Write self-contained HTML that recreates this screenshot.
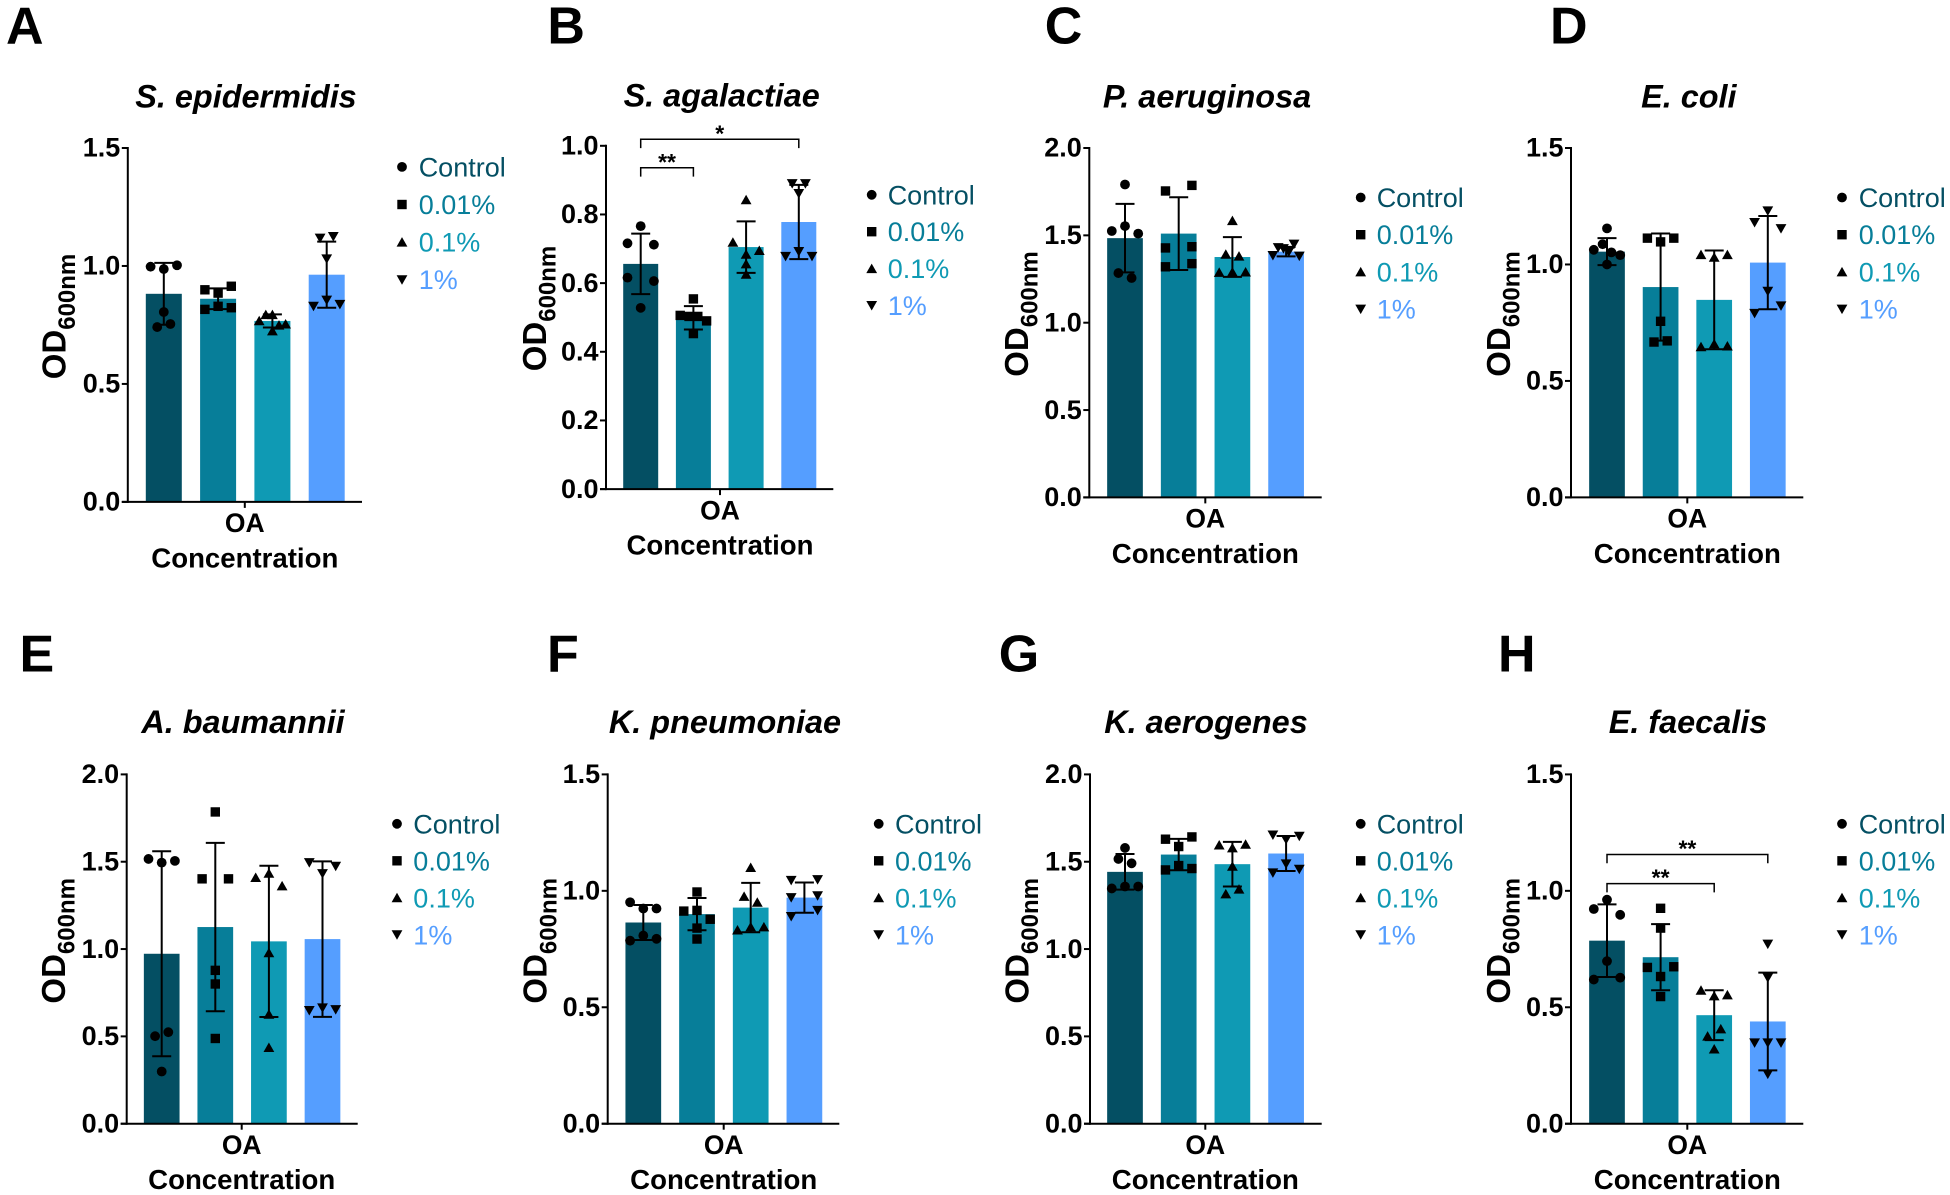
<!DOCTYPE html>
<html lang="en">
<head>
<meta charset="utf-8">
<title>OD600 by OA concentration for eight bacterial species</title>
<style>
html,body{margin:0;padding:0;background:#fff;}
svg{display:block;}
text{font-family:"Liberation Sans",sans-serif;}
</style>
</head>
<body>
<svg id="figure" xmlns="http://www.w3.org/2000/svg" width="1950" height="1195" viewBox="0 0 1950 1195"></svg>
<script>
const categories = ['Control', '0.01%', '0.1%', '1%'];

const aTitle = 'S. epidermidis';
const aTicks = [0, 0.5, 1.0, 1.5];
const aMeans = [0.882, 0.861, 0.767, 0.963];
const aSds = [0.131, 0.044, 0.028, 0.140];
const aPoints = [
  [0.997, 0.987, 1.003, 0.805, 0.741, 0.754],
  [0.899, 0.885, 0.914, 0.816, 0.829, 0.823],
  [0.768, 0.794, 0.794, 0.749, 0.754, 0.725],
  [1.118, 1.125, 1.030, 0.829, 0.855, 0.837]
];
const aBrackets = [];

const bTitle = 'S. agalactiae';
const bTicks = [0, 0.2, 0.4, 0.6, 0.8, 1.0];
const bMeans = [0.656, 0.499, 0.705, 0.778];
const bSds = [0.088, 0.034, 0.075, 0.108];
const bPoints = [
  [0.766, 0.716, 0.712, 0.616, 0.606, 0.528],
  [0.554, 0.506, 0.503, 0.503, 0.490, 0.453],
  [0.843, 0.719, 0.684, 0.695, 0.656, 0.626],
  [0.890, 0.890, 0.861, 0.678, 0.692, 0.678]
];
const bBrackets = [[0, 3, 1.019, '*'], [0, 1, 0.936, '**']];

const cTitle = 'P. aeruginosa';
const cTicks = [0, 0.5, 1.0, 1.5, 2.0];
const cMeans = [1.484, 1.510, 1.376, 1.407];
const cSds = [0.196, 0.208, 0.114, 0.027];
const cPoints = [
  [1.791, 1.525, 1.553, 1.510, 1.284, 1.256],
  [1.754, 1.786, 1.428, 1.435, 1.320, 1.338],
  [1.584, 1.392, 1.381, 1.288, 1.290, 1.290],
  [1.385, 1.430, 1.424, 1.405, 1.450, 1.381]
];
const cBrackets = [];

const dTitle = 'E. coli';
const dTicks = [0, 0.5, 1.0, 1.5];
const dMeans = [1.055, 0.903, 0.848, 1.008];
const dSds = [0.058, 0.230, 0.212, 0.200];
const dPoints = [
  [1.155, 1.063, 1.087, 1.052, 1.040, 1.000],
  [1.113, 1.097, 1.113, 0.756, 0.667, 0.672],
  [1.042, 1.031, 1.042, 0.647, 0.659, 0.650],
  [1.230, 1.180, 1.154, 0.885, 0.790, 0.822]
];
const dBrackets = [];

const eTitle = 'A. baumannii';
const eTicks = [0, 0.5, 1.0, 1.5, 2.0];
const eMeans = [0.973, 1.126, 1.044, 1.057];
const eSds = [0.587, 0.482, 0.433, 0.445];
const ePoints = [
  [1.516, 1.495, 1.505, 0.501, 0.524, 0.299],
  [1.785, 1.402, 1.402, 0.878, 0.800, 0.488],
  [1.410, 1.434, 1.362, 0.979, 0.627, 0.436],
  [1.495, 1.432, 1.474, 0.648, 0.663, 0.653]
];
const eBrackets = [];

const fTitle = 'K. pneumoniae';
const fTicks = [0, 0.5, 1.0, 1.5];
const fMeans = [0.864, 0.900, 0.928, 0.971];
const fSds = [0.075, 0.069, 0.106, 0.065];
const fPoints = [
  [0.951, 0.924, 0.924, 0.786, 0.808, 0.794],
  [0.995, 0.913, 0.916, 0.878, 0.840, 0.793],
  [1.100, 0.976, 0.951, 0.832, 0.845, 0.845],
  [1.045, 1.048, 0.971, 0.979, 0.890, 0.916]
];
const fBrackets = [];

const gTitle = 'K. aerogenes';
const gTicks = [0, 0.5, 1.0, 1.5, 2.0];
const gMeans = [1.442, 1.541, 1.486, 1.547];
const gSds = [0.102, 0.090, 0.128, 0.100];
const gPoints = [
  [1.579, 1.516, 1.491, 1.347, 1.358, 1.358],
  [1.629, 1.587, 1.642, 1.453, 1.478, 1.461],
  [1.596, 1.579, 1.600, 1.474, 1.316, 1.343],
  [1.653, 1.627, 1.646, 1.436, 1.488, 1.457]
];
const gBrackets = [];

const hTitle = 'E. faecalis';
const hTicks = [0, 0.5, 1.0, 1.5];
const hMeans = [0.786, 0.715, 0.466, 0.439];
const hSds = [0.156, 0.142, 0.107, 0.210];
const hPoints = [
  [0.962, 0.922, 0.897, 0.698, 0.619, 0.627],
  [0.925, 0.840, 0.671, 0.674, 0.632, 0.546],
  [0.573, 0.549, 0.553, 0.376, 0.407, 0.321],
  [0.771, 0.627, 0.347, 0.347, 0.347, 0.213]
];
const hBrackets = [[0, 3, 1.156, '**'], [0, 2, 1.031, '**']];

const colors = ['#044f63', '#077e99', '#0f9ab4', '#559eff'];
const markerKinds = ['circle', 'square', 'up', 'down'];

const panels = [
  {letter:'A', title:aTitle, ticks:aTicks, means:aMeans, sds:aSds, points:aPoints, brackets:aBrackets,
   axisX:127.8, y0:501.9, yTop:148, c0:163.8, step:54.3, barW:36, xEnd:362, tickX:244.8, legSym:402, legText:418.7, legY:166.9, legStep:37.6,
   titleX:246, titleY:107.4, labelX:65.4, labelY:316.5, letterX:6, letterY:43.3},
  {letter:'B', title:bTitle, ticks:bTicks, means:bMeans, sds:bSds, points:bPoints, brackets:bBrackets,
   axisX:606, y0:489.1, yTop:145.8, c0:640.7, step:52.7, barW:35, xEnd:833.3, tickX:720, legSym:871.7, legText:887.7, legY:194.8, legStep:36.9,
   titleX:721.7, titleY:106.3, labelX:546, labelY:308.5, letterX:547.4, letterY:43.3},
  {letter:'C', title:cTitle, ticks:cTicks, means:cMeans, sds:cSds, points:cPoints, brackets:cBrackets,
   axisX:1089.3, y0:497.4, yTop:148, c0:1125, step:53.7, barW:35.7, xEnd:1321.7, tickX:1205.3, legSym:1360.7, legText:1376.7, legY:197.5, legStep:37.2,
   titleX:1207, titleY:107.4, labelX:1028, labelY:314, letterX:1044.7, letterY:43.3},
  {letter:'D', title:dTitle, ticks:dTicks, means:dMeans, sds:dSds, points:dPoints, brackets:dBrackets,
   axisX:1571, y0:497.4, yTop:148, c0:1607, step:53.6, barW:35.7, xEnd:1803.3, tickX:1687.3, legSym:1842, legText:1858.7, legY:197.5, legStep:37.2,
   titleX:1688.8, titleY:107.4, labelX:1510, labelY:314, letterX:1550, letterY:43.3},
  {letter:'E', title:eTitle, ticks:eTicks, means:eMeans, sds:eSds, points:ePoints, brackets:eBrackets,
   axisX:126.7, y0:1123.7, yTop:774.4, c0:161.7, step:53.6, barW:35.7, xEnd:357.7, tickX:241.7, legSym:397, legText:413.3, legY:823.8, legStep:37,
   titleX:243, titleY:732.9, labelX:65, labelY:940.8, letterX:19.5, letterY:671.6},
  {letter:'F', title:fTitle, ticks:fTicks, means:fMeans, sds:fSds, points:fPoints, brackets:fBrackets,
   axisX:607.7, y0:1123.7, yTop:774.4, c0:643.3, step:53.7, barW:35.7, xEnd:839.3, tickX:723.7, legSym:878.7, legText:895, legY:823.8, legStep:37,
   titleX:725, titleY:732.9, labelX:546.7, labelY:940.8, letterX:547, letterY:671.6},
  {letter:'G', title:gTitle, ticks:gTicks, means:gMeans, sds:gSds, points:gPoints, brackets:gBrackets,
   axisX:1090, y0:1123.7, yTop:774.4, c0:1125, step:53.7, barW:35.7, xEnd:1321.7, tickX:1205.3, legSym:1360.7, legText:1376.7, legY:823.8, legStep:37,
   titleX:1206, titleY:732.9, labelX:1028.3, labelY:940.8, letterX:998.7, letterY:671.6},
  {letter:'H', title:hTitle, ticks:hTicks, means:hMeans, sds:hSds, points:hPoints, brackets:hBrackets,
   axisX:1571, y0:1123.7, yTop:774.4, c0:1607, step:53.6, barW:35.7, xEnd:1803.3, tickX:1687.3, legSym:1842, legText:1858.7, legY:823.8, legStep:37,
   titleX:1688, titleY:732.9, labelX:1510, labelY:940.8, letterX:1498, letterY:671.6}
];

const SVG_NS = 'http://www.w3.org/2000/svg';
const figure = document.getElementById('figure');

function make(tag, attrs, parent, content) {
  const node = document.createElementNS(SVG_NS, tag);
  for (const key in attrs) node.setAttribute(key, attrs[key]);
  if (content !== undefined) node.textContent = content;
  parent.appendChild(node);
  return node;
}

function drawMarker(kind, cx, cy, parent) {
  let node;
  if (kind === 'circle') {
    node = make('circle', {cx: cx, cy: cy, r: 4.9, fill: '#000'}, parent);
  } else if (kind === 'square') {
    node = make('rect', {x: cx - 4.7, y: cy - 4.7, width: 9.4, height: 9.4, fill: '#000'}, parent);
  } else if (kind === 'up') {
    node = make('polygon', {points: [cx - 5.4, cy + 4.5, cx + 5.4, cy + 4.5, cx, cy - 5].join(' '), fill: '#000'}, parent);
  } else {
    node = make('polygon', {points: [cx - 5.4, cy - 4.5, cx + 5.4, cy - 4.5, cx, cy + 5].join(' '), fill: '#000'}, parent);
  }
  return node;
}

/* Bee-swarm layout: points close in height share a row, centred on the bar.
   The widest row fills the swarm width. Columns with a row of three or more
   use half-lanes for pairs; columns with only pairs spread them to the edges.
   Within a row the left-to-right order follows the data array order. */
function swarmOffsets(values, yScale, spacing) {
  const order = values.map(function (v, i) { return i; })
    .sort(function (a, b) { return yScale(values[a]) - yScale(values[b]); });
  const rows = [];
  let row = [];
  let rowStart = 0;
  order.forEach(function (idx, n) {
    const py = yScale(values[idx]);
    if (n > 0 && (py - yScale(values[order[n - 1]]) >= 8.5 || py - rowStart >= 15)) {
      rows.push(row);
      row = [];
    }
    if (row.length === 0) rowStart = py;
    row.push(idx);
  });
  rows.push(row);
  const widest = Math.max.apply(null, rows.map(function (r) { return r.length; }));
  const offsets = new Array(values.length).fill(0);
  rows.forEach(function (r) {
    r.sort(function (a, b) { return a - b; });
    let gap = 0;
    if (r.length === 2) gap = widest === 2 ? 2 * spacing : spacing;
    if (r.length > 2) gap = 2 * spacing / (r.length - 1);
    r.forEach(function (idx, k) { offsets[idx] = (k - (r.length - 1) / 2) * gap; });
  });
  return offsets;
}

panels.forEach(function (p) {
  const yMax = p.ticks[p.ticks.length - 1];
  const yScale = function (v) { return p.y0 - (v / yMax) * (p.y0 - p.yTop); };
  const xScale = function (i) { return p.c0 + i * p.step; };
  const key = p.letter.toLowerCase();

  const group = make('g', {}, figure);
  
  

  const letter = make('text', {x: p.letterX, y: p.letterY, 'font-size': 52, 'font-weight': 700, fill: '#000'}, group, p.letter);
  
  

  const title = make('text', {x: p.titleX, y: p.titleY, 'font-size': 32.4, 'font-weight': 700, 'font-style': 'italic', 'text-anchor': 'middle', fill: '#000'}, group, p.title);
  
  

  const yTitle = make('text', {transform: 'translate(' + p.labelX + ' ' + p.labelY + ') rotate(-90)', 'font-size': 33, 'font-weight': 700, 'text-anchor': 'middle', fill: '#000'}, group);
  
  
  make('tspan', {}, yTitle, 'OD');
  make('tspan', {'font-size': 24, dy: 9.6}, yTitle, '600nm');

  p.means.forEach(function (mean, i) {
    const barTop = yScale(mean);
    const bar = make('rect', {x: xScale(i) - p.barW / 2, y: barTop, width: p.barW, height: p.y0 - barTop, fill: colors[i]}, group);
    
    
  });

  p.points.forEach(function (values, i) {
    const offsets = swarmOffsets(values, yScale, 13.2);
    values.forEach(function (v, j) {
      const point = drawMarker(markerKinds[i], xScale(i) + offsets[j], yScale(v), group);
      
      
    });
  });

  p.means.forEach(function (mean, i) {
    const cx = xScale(i);
    const hi = yScale(mean + p.sds[i]);
    const lo = yScale(mean - p.sds[i]);
    const d = 'M' + cx + ' ' + hi + 'V' + lo + 'M' + (cx - 9.5) + ' ' + hi + 'H' + (cx + 9.5) + 'M' + (cx - 9.5) + ' ' + lo + 'H' + (cx + 9.5);
    const err = make('path', {d: d, fill: 'none', stroke: '#000', 'stroke-width': 2}, group);
    
    
  });

  const yAxis = make('line', {x1: p.axisX, x2: p.axisX, y1: p.yTop - 1, y2: p.y0 + 1, stroke: '#000', 'stroke-width': 2}, group);
  
  

  const xAxis = make('line', {x1: p.axisX - 6, x2: p.xEnd, y1: p.y0, y2: p.y0, stroke: '#000', 'stroke-width': 2}, group);
  
  

  const xTick = make('line', {x1: p.tickX, x2: p.tickX, y1: p.y0, y2: p.y0 + 6, stroke: '#000', 'stroke-width': 2}, group);
  
  

  p.ticks.forEach(function (t) {
    const ty = yScale(t);
    const tick = make('line', {x1: p.axisX - 6, x2: p.axisX, y1: ty, y2: ty, stroke: '#000', 'stroke-width': 2}, group);
    
    
    const label = make('text', {x: p.axisX - 7.5, y: ty + 8.7, 'font-size': 27, 'font-weight': 700, 'text-anchor': 'end', fill: '#000'}, group, t.toFixed(1));
    
    
  });

  const oa = make('text', {x: p.tickX, y: p.y0 + 30.2, 'font-size': 26.5, 'font-weight': 700, 'text-anchor': 'middle', fill: '#000'}, group, 'OA');
  
  

  const conc = make('text', {x: p.tickX, y: p.y0 + 65.4, 'font-size': 27.6, 'font-weight': 700, 'text-anchor': 'middle', fill: '#000'}, group, 'Concentration');
  
  

  p.brackets.forEach(function (b, n) {
    const by = yScale(b[2]);
    const bx1 = xScale(b[0]);
    const bx2 = xScale(b[1]);
    const bracket = make('path', {d: 'M' + bx1 + ' ' + (by + 8.8) + 'V' + by + 'H' + bx2 + 'V' + (by + 8.8), fill: 'none', stroke: '#000', 'stroke-width': 1.5}, group);
    
    
    const stars = make('text', {x: (bx1 + bx2) / 2, y: by + 2, 'font-size': 23, 'font-weight': 700, 'text-anchor': 'middle', fill: '#000'}, group, b[3]);
    
    
  });

  categories.forEach(function (cat, i) {
    const ly = p.legY + i * p.legStep;
    const entry = make('g', {}, group);
    
    
    drawMarker(markerKinds[i], p.legSym, ly, entry);
    make('text', {x: p.legText, y: ly + 9.5, 'font-size': 27, fill: colors[i]}, entry, cat);
  });
});
</script>
</body>
</html>
